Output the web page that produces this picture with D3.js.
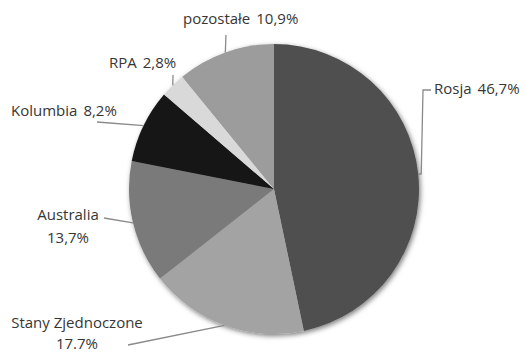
<!DOCTYPE html>
<html>
<head>
<meta charset="utf-8">
<script src="https://cdn.jsdelivr.net/npm/d3@7"></script>
<style>
  html, body { margin: 0; padding: 0; background: #fff; }
  svg { display: block; }
  .lbl { font-family: "Open Sans", sans-serif; font-size: 15px; fill: #363636; }
</style>
</head>
<body>
<svg id="chart" width="527" height="353"></svg>
<script>
// Udział krajów w imporcie – wartości procentowe
const categories = ["Rosja", "Stany Zjednoczone", "Australia", "Kolumbia", "RPA", "pozostałe"];
const shares = [46.7, 17.7, 13.7, 8.2, 2.8, 10.9];
const shareLabels = ["46,7%", "17.7%", "13,7%", "8,2%", "2,8%", "10,9%"];
const sliceColors = ["#4f4f4f", "#a3a3a3", "#7a7a7a", "#161616", "#d9d9d9", "#9c9c9c"];

// Rozmieszczenie etykiet i punktów początkowych linii odniesienia
const labelLayout = [
  { anchor: "start",  x: 434, y: [94],       oneLine: true,  leader: [[431, 90], [423, 90]] },
  { anchor: "middle", x: 77,  y: [328, 349], oneLine: false, leader: [[128, 345]] },
  { anchor: "middle", x: 68,  y: [220, 243], oneLine: false, leader: [[104, 218]] },
  { anchor: "start",  x: 11,  y: [116],      oneLine: true,  leader: [[97, 122]] },
  { anchor: "start",  x: 109, y: [68],       oneLine: true,  leader: [[173, 75]] },
  { anchor: "start",  x: 183, y: [24],       oneLine: true,  leader: [[226, 35]] }
];

const cx = 274, cy = 189, radius = 145;

const svg = d3.select("#chart");

const defs = svg.append("defs");
const shadow = defs.append("filter").attr("id", "pieShadow")
  .attr("x", "-20%").attr("y", "-20%").attr("width", "140%").attr("height", "140%");
shadow.append("feDropShadow")
  .attr("dx", 1.5).attr("dy", 2).attr("stdDeviation", 2.5)
  .attr("flood-color", "#000").attr("flood-opacity", 0.5);

const pie = d3.pie().sort(null).value(d => d);
const arcs = pie(shares);
const arc = d3.arc().innerRadius(0).outerRadius(radius);

const g = svg.append("g").attr("transform", `translate(${cx},${cy})`);

g.append("g").attr("filter", "url(#pieShadow)")
  .selectAll("path")
  .data(arcs)
  .join("path")
  .attr("d", arc)
  .attr("fill", (d, i) => sliceColors[i]);

// Linie odniesienia: od etykiety do środka łuku danego wycinka
const line = d3.line();
arcs.forEach((a, i) => {
  const mid = (a.startAngle + a.endAngle) / 2;
  const edge = [cx + radius * Math.sin(mid), cy - radius * Math.cos(mid)];
  const pts = labelLayout[i].leader.slice();
  if (i === 0) pts.push([edge[0] + 3, edge[1]]);
  pts.push(edge);
  svg.append("path")
    .attr("d", line(pts))
    .attr("fill", "none")
    .attr("stroke", "#8a8a8a")
    .attr("stroke-width", 1.3);
});

// Etykiety
categories.forEach((name, i) => {
  const L = labelLayout[i];
  const t = svg.append("text").attr("class", "lbl").attr("text-anchor", L.anchor);
  if (L.oneLine) {
    t.attr("x", L.x).attr("y", L.y[0]);
    t.append("tspan").text(name);
    t.append("tspan").attr("dx", 6).text(shareLabels[i]);
  } else {
    t.append("tspan").attr("x", L.x).attr("y", L.y[0]).text(name);
    t.append("tspan").attr("x", L.x).attr("y", L.y[1]).text(shareLabels[i]);
  }
});
</script>
</body>
</html>
